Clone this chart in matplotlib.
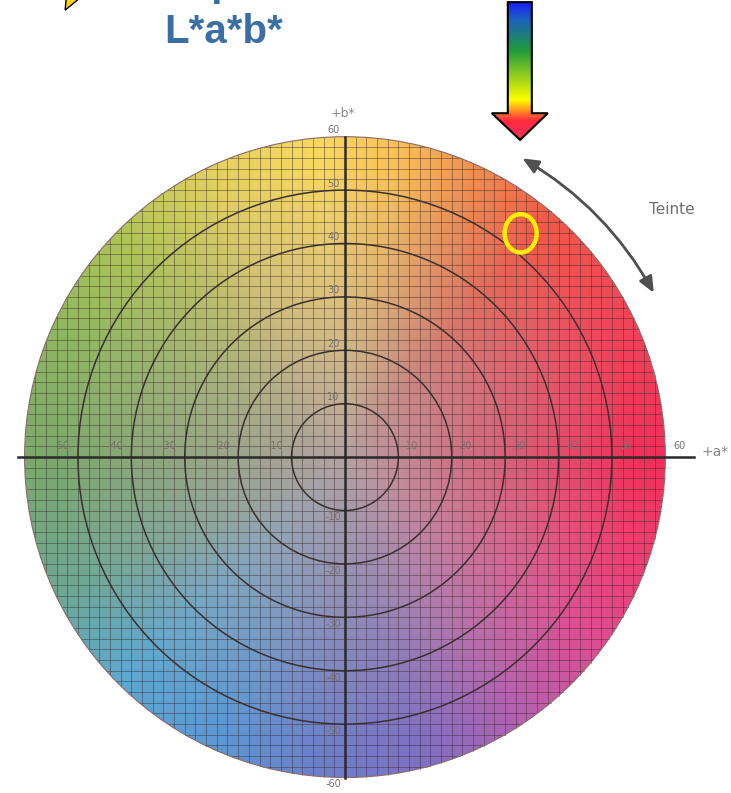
import numpy as np
import matplotlib
matplotlib.use('Agg')
import matplotlib.pyplot as plt
from matplotlib.colors import to_rgb
from matplotlib.patches import Circle, Ellipse, Polygon, FancyArrowPatch

# colour field of the a*b* disc: rim colour by hue angle, neutral centre
hue_angles = [0, 30, 50, 65, 80, 95, 115, 135, 155, 180, 205, 225, 245, 265, 285, 305, 325, 345]
rim_colors = ['#f0305a', '#f04858', '#f05a48', '#f08c50', '#f8c058', '#f8d860',
              '#e2d062', '#b0c458', '#90b860', '#7ca86c', '#6ea894', '#5ea8d0',
              '#5c98d4', '#6c80cc', '#8070c4', '#b860b0', '#e04c90', '#f03c6c']
center_color = '#b4a2a2'

ring_radii = [10, 20, 30, 40, 50]
disc_radius = 60
grid_step = 2

a_ticks = [-50, -40, -30, -20, -10, 10, 20, 30, 40, 50, 60]
b_ticks = [60, 50, 40, 30, 20, 10, -10, -20, -30, -40, -50, -60]

marker_a, marker_b = 32.9, 41.9

arrow_stops = [0.0, 0.12, 0.35, 0.71, 0.86, 1.0]
arrow_colors = ['#1a1aff', '#1a60c0', '#1f9a3c', '#ffff00', '#ff2a40', '#f0305a']

fig = plt.figure(figsize=(7.31, 7.93), dpi=100)
ax = fig.add_axes([0, 0, 1, 1])
ax.axis('off')

# disc image
n = 700
xs = np.linspace(-disc_radius, disc_radius, n)
A, B = np.meshgrid(xs, xs[::-1])
r = np.hypot(A, B)
theta = np.degrees(np.arctan2(B, A)) % 360
angs = np.array(hue_angles + [360])
rims = np.array([to_rgb(c) for c in rim_colors + [rim_colors[0]]])
cen = np.array(to_rgb(center_color))
f = np.clip(r / 55, 0, 1) ** 0.9
img = np.zeros((n, n, 4))
for k in range(3):
    rim = np.interp(theta, angs, rims[:, k])
    img[..., k] = cen[k] * (1 - f) + rim * f
img[..., 3] = 1.0
disc = Circle((0, 0), disc_radius, transform=ax.transData)
im = ax.imshow(img, extent=[-disc_radius, disc_radius, -disc_radius, disc_radius],
               aspect='auto', zorder=1, interpolation='bilinear')
im.set_clip_path(disc)
ax.add_patch(Circle((0, 0), disc_radius, fill=False, ec='#8a6a6a', lw=0.8, zorder=3))

# fine grid
for v in np.arange(-disc_radius + grid_step, disc_radius, grid_step):
    h = np.sqrt(disc_radius ** 2 - v ** 2)
    ax.plot([-h, h], [v, v], color='#3a2a2a', lw=0.7, alpha=0.45, zorder=2)
    ax.plot([v, v], [-h, h], color='#3a2a2a', lw=0.7, alpha=0.45, zorder=2)

# concentric rings
for rr in ring_radii:
    ax.add_patch(Circle((0, 0), rr, fill=False, ec='#3a3030', lw=1.1, zorder=3))

# axes
ax.plot([-61.2, 65.4], [0, 0], color='#2a2a2a', lw=1.8, zorder=4)
ax.plot([0, 0], [-disc_radius, disc_radius], color='#2a2a2a', lw=1.8, zorder=4)

tick_color = '#7a7070'
for v in a_ticks:
    x = v - 3 if v < 0 else v + 2.6
    ax.text(x, 2.0, str(v), fontsize=7, color=tick_color, ha='center', va='center', zorder=5)
for v in b_ticks:
    y = v + 1.2 if v > 0 else v - 1.3
    ax.text(-2.2, y, str(v), fontsize=7, color=tick_color, ha='center', va='center', zorder=5)
ax.text(69.3, 0.9, '+a*', fontsize=10, color='#888888', ha='center', va='center')
ax.text(-0.4, 64.4, '+b*', fontsize=9, color='#888888', ha='center', va='center')

# hue arrow and label
ax.add_patch(FancyArrowPatch((32.8, 56.2), (58.1, 30.3), connectionstyle='arc3,rad=-0.14',
                             arrowstyle='<|-|>,head_length=6,head_width=2.6',
                             color='#505050', lw=2, mutation_scale=1.6, zorder=5))
ax.text(61.2, 46.3, 'Teinte', fontsize=11, color='#6e6e6e', ha='center', va='center')

# highlighted point
ax.add_patch(Ellipse((marker_a, marker_b), 6.0, 7.2, fill=False, ec='#ffee00', lw=3.2, zorder=6))

# gradient arrow at the top
arrow_pts = [(30.5, 85.2), (35.0, 85.2), (35.0, 64.4), (38.0, 64.4),
             (32.8, 59.4), (27.5, 64.4), (30.5, 64.4)]
grad = np.linspace(0, 1, 256)
ac = np.array([to_rgb(c) for c in arrow_colors])
gimg = np.stack([np.interp(grad, arrow_stops, ac[:, k]) for k in range(3)], axis=-1)
gimg = np.repeat(gimg[:, None, :], 8, axis=1)
poly = Polygon(arrow_pts, closed=True, transform=ax.transData)
gi = ax.imshow(gimg, extent=[27.5, 38.0, 59.4, 85.2], aspect='auto', zorder=6)
gi.set_clip_path(poly)
ax.add_patch(Polygon(arrow_pts, closed=True, fill=False, ec='black', lw=1.5, zorder=7))

# title
ax.text(-22.7, 79.6, 'L*a*b*', fontsize=29, fontweight='bold', color='#3a6ea5',
        family='Liberation Sans', ha='center', va='center')
ax.text(-21.0, 86.4, 'Espace', fontsize=29, fontweight='bold', color='#3a6ea5',
        family='Liberation Sans', ha='center', va='baseline', clip_on=True)
ax.add_patch(Polygon([(-52.4, 83.7), (-52.2, 86.0), (-49.6, 86.0)], closed=True,
                     fc='#ffd21a', ec='black', lw=1, zorder=7))

ax.set_xlim(-64.6, 72.3)
ax.set_ylim(-62.9, 85.6)
fig.savefig('out.png', dpi=100)
